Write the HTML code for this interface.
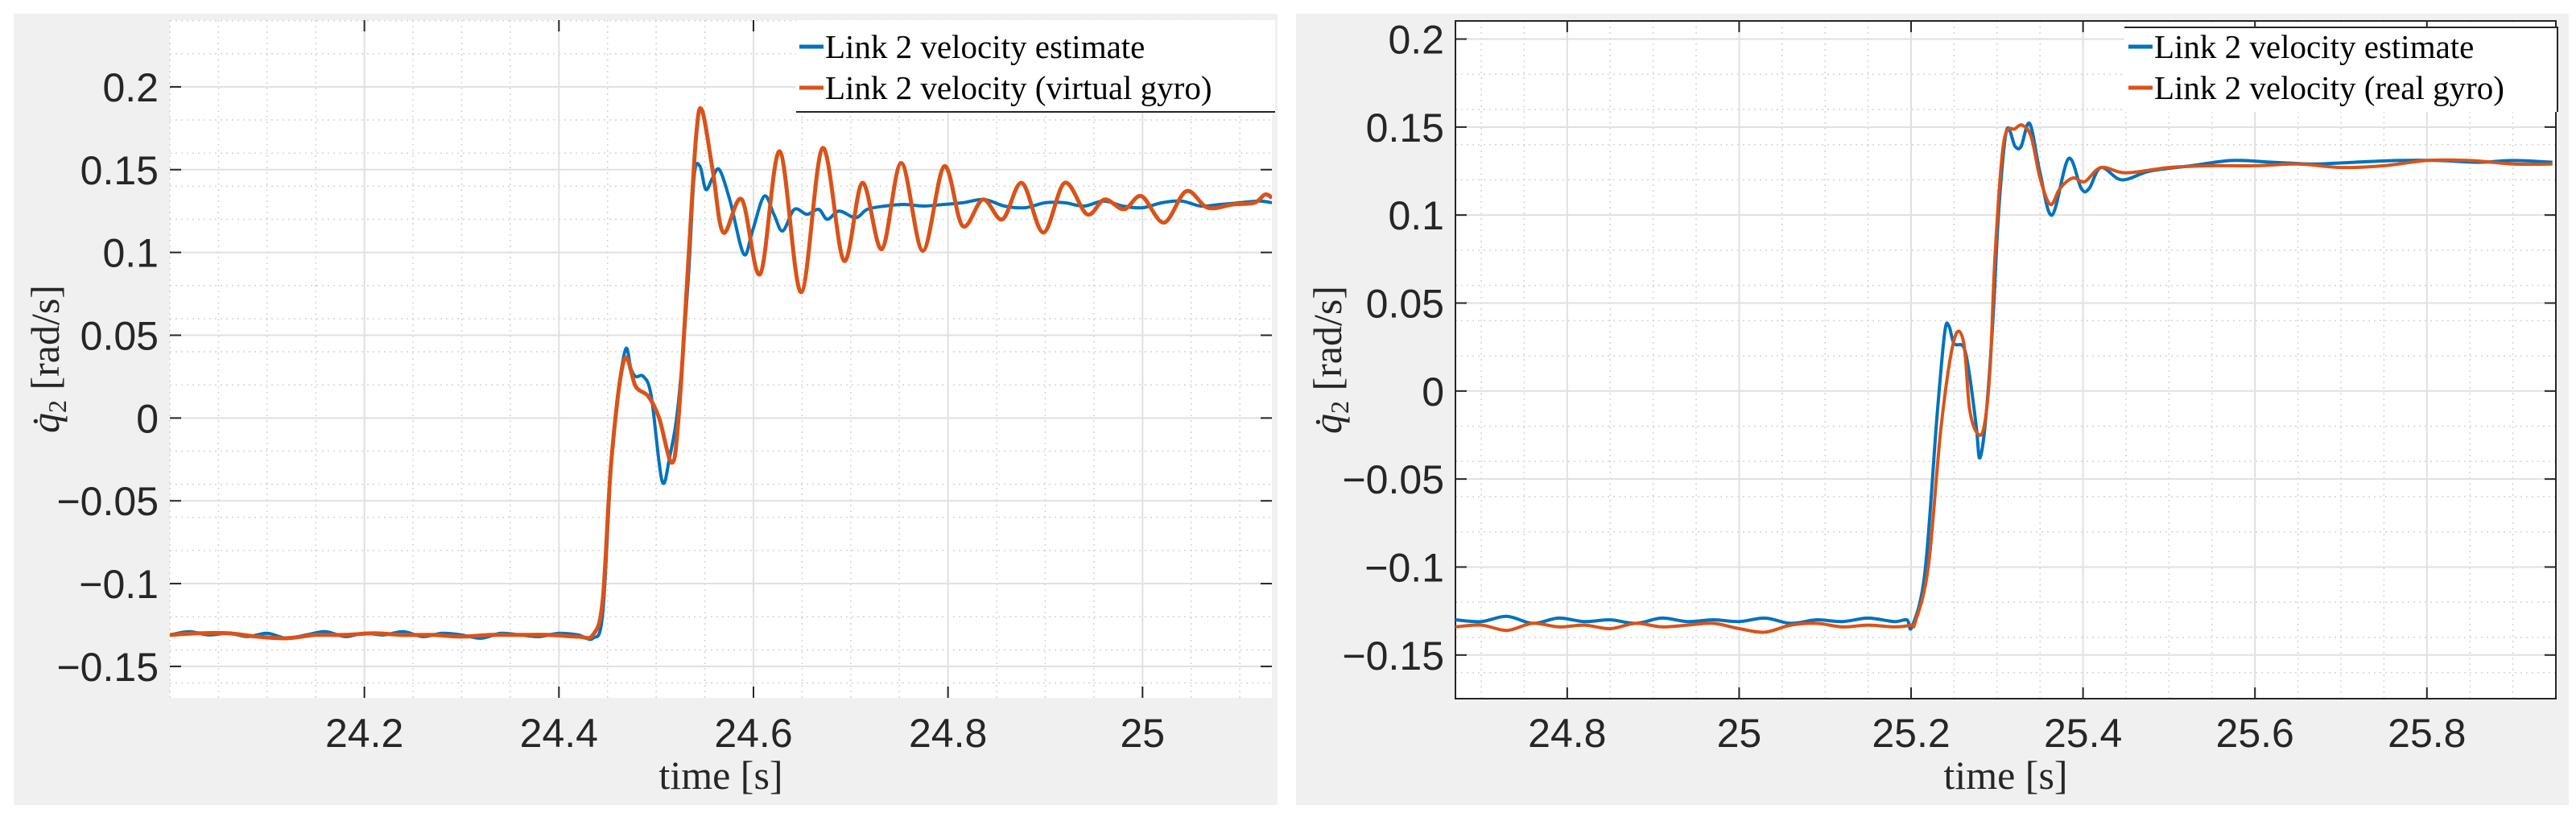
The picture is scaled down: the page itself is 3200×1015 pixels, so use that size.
<!DOCTYPE html>
<html><head><meta charset="utf-8"><style>
html,body{margin:0;padding:0;background:#fff;}
svg{display:block;}
.tick{font-family:"Liberation Sans",sans-serif;font-size:50px;fill:#262626;}
.lab{font-family:"Liberation Serif",serif;font-size:50px;fill:#262626;}
.leg{font-family:"Liberation Serif",serif;font-size:41px;fill:#000;}
</style></head><body>
<svg id="fig" width="3200" height="1015" viewBox="0 0 3200 1015" xmlns="http://www.w3.org/2000/svg">
<rect x="0" y="0" width="3200" height="1015" fill="#fff"/>
<g id="left"></g>
<g id="right"></g>
</svg>
<script>
// ---- left chart data ----
const leftXTicks = [24.2, 24.4, 24.6, 24.8, 25];
const leftXTickLabels = ["24.2", "24.4", "24.6", "24.8", "25"];
const leftYTicks = [-0.15, -0.1, -0.05, 0, 0.05, 0.1, 0.15, 0.2];
const leftYTickLabels = ["\u22120.15", "\u22120.1", "\u22120.05", "0", "0.05", "0.1", "0.15", "0.2"];
const leftBlueT = [24.0,24.02,24.04,24.06,24.08,24.1,24.12,24.14,24.16,24.18,24.2,24.22,24.24,24.26,24.28,24.3,24.32,24.34,24.36,24.38,24.4,24.42,24.435,24.445,24.454,24.462,24.469,24.474,24.479,24.487,24.495,24.506,24.514,24.523,24.533,24.539,24.545,24.551,24.558,24.565,24.576,24.59,24.599,24.611,24.621,24.63,24.642,24.655,24.667,24.676,24.688,24.705,24.717,24.735,24.755,24.775,24.796,24.815,24.837,24.858,24.879,24.9,24.92,24.94,24.96,24.98,25.0,25.02,25.04,25.06,25.08,25.1,25.12,25.133];
const leftBlueV = [-0.131,-0.129,-0.131,-0.130,-0.132,-0.130,-0.133,-0.131,-0.129,-0.132,-0.130,-0.131,-0.129,-0.132,-0.130,-0.131,-0.133,-0.130,-0.131,-0.132,-0.130,-0.131,-0.133,-0.118,-0.025,0.02,0.042,0.03,0.025,0.025,0.013,-0.038,-0.023,0.01,0.084,0.146,0.152,0.138,0.145,0.150,0.131,0.099,0.113,0.134,0.123,0.113,0.126,0.123,0.126,0.120,0.125,0.121,0.126,0.128,0.129,0.128,0.129,0.130,0.132,0.128,0.127,0.130,0.130,0.128,0.131,0.128,0.127,0.130,0.131,0.128,0.129,0.130,0.131,0.130];
const leftOrangeT = [24.0,24.03,24.06,24.09,24.12,24.15,24.18,24.21,24.24,24.27,24.3,24.33,24.36,24.39,24.42,24.435,24.445,24.454,24.467,24.479,24.492,24.503,24.516,24.523,24.533,24.541,24.547,24.558,24.569,24.588,24.607,24.627,24.649,24.671,24.693,24.712,24.732,24.752,24.774,24.796,24.815,24.836,24.856,24.876,24.898,24.92,24.943,24.961,24.981,24.999,25.022,25.045,25.067,25.093,25.115,25.126,25.133];
const leftOrangeV = [-0.131,-0.130,-0.130,-0.132,-0.133,-0.131,-0.131,-0.130,-0.131,-0.131,-0.132,-0.131,-0.131,-0.131,-0.132,-0.131,-0.11,-0.025,0.035,0.019,0.013,0.0,-0.027,0.0,0.094,0.17,0.186,0.15,0.112,0.132,0.087,0.161,0.076,0.163,0.095,0.142,0.102,0.154,0.101,0.152,0.116,0.132,0.120,0.142,0.112,0.142,0.123,0.132,0.126,0.134,0.118,0.137,0.127,0.129,0.130,0.135,0.133];
// ---- right chart data ----
const rightXTicks = [24.8, 25, 25.2, 25.4, 25.6, 25.8];
const rightXTickLabels = ["24.8", "25", "25.2", "25.4", "25.6", "25.8"];
const rightYTicks = [-0.15, -0.1, -0.05, 0, 0.05, 0.1, 0.15, 0.2];
const rightYTickLabels = ["\u22120.15", "\u22120.1", "\u22120.05", "0", "0.05", "0.1", "0.15", "0.2"];
const rightBlueT = [24.67,24.7,24.73,24.76,24.79,24.82,24.85,24.88,24.91,24.94,24.97,25.0,25.03,25.06,25.09,25.12,25.15,25.18,25.195,25.201,25.216,25.23,25.239,25.244,25.25,25.261,25.268,25.276,25.28,25.287,25.295,25.302,25.311,25.321,25.328,25.338,25.35,25.364,25.383,25.398,25.407,25.421,25.445,25.478,25.526,25.573,25.621,25.668,25.716,25.765,25.813,25.86,25.9,25.946];
const rightBlueV = [-0.130,-0.131,-0.128,-0.132,-0.129,-0.131,-0.130,-0.132,-0.129,-0.131,-0.130,-0.131,-0.129,-0.132,-0.130,-0.131,-0.129,-0.131,-0.130,-0.134,-0.1035,-0.015,0.033,0.037,0.027,0.025,0.009,-0.021,-0.038,-0.015,0.039,0.103,0.148,0.139,0.139,0.152,0.124,0.100,0.132,0.115,0.115,0.127,0.120,0.125,0.128,0.131,0.130,0.129,0.130,0.131,0.131,0.130,0.131,0.130];
const rightOrangeT = [24.67,24.7,24.73,24.76,24.79,24.82,24.85,24.88,24.91,24.94,24.97,25.0,25.03,25.06,25.09,25.12,25.15,25.18,25.2,25.205,25.22,25.235,25.25,25.261,25.268,25.277,25.285,25.292,25.298,25.308,25.321,25.33,25.34,25.35,25.362,25.373,25.388,25.402,25.421,25.45,25.5,25.55,25.6,25.65,25.7,25.75,25.8,25.85,25.9,25.946];
const rightOrangeV = [-0.134,-0.133,-0.136,-0.132,-0.134,-0.133,-0.135,-0.132,-0.134,-0.133,-0.132,-0.135,-0.137,-0.133,-0.132,-0.134,-0.133,-0.134,-0.133,-0.131,-0.10,-0.02,0.029,0.028,-0.01,-0.024,-0.02,0.014,0.08,0.142,0.149,0.151,0.144,0.121,0.106,0.115,0.121,0.119,0.127,0.124,0.127,0.128,0.128,0.129,0.127,0.128,0.131,0.131,0.129,0.129];

const NS = "http://www.w3.org/2000/svg";
function mk(parent, tag, attrs) {
  const e = document.createElementNS(NS, tag);
  for (const k in attrs) e.setAttribute(k, attrs[k]);
  parent.appendChild(e);
  return e;
}
function smoothPath(pts) {
  let d = 'M' + pts[0][0].toFixed(1) + ',' + pts[0][1].toFixed(1);
  for (let i = 0; i < pts.length - 1; i++) {
    const p0 = pts[Math.max(0, i - 1)], p1 = pts[i], p2 = pts[i + 1], p3 = pts[Math.min(pts.length - 1, i + 2)];
    const c1x = p1[0] + (p2[0] - p0[0]) / 6, c1y = p1[1] + (p2[1] - p0[1]) / 6;
    const c2x = p2[0] - (p3[0] - p1[0]) / 6, c2y = p2[1] - (p3[1] - p1[1]) / 6;
    d += ` C${c1x.toFixed(1)},${c1y.toFixed(1)} ${c2x.toFixed(1)},${c2y.toFixed(1)} ${p2[0].toFixed(1)},${p2[1].toFixed(1)}`;
  }
  return d;
}
function drawChart(g, cfg) {
  const sx = v => cfg.px0 + (v - cfg.xmin) / (cfg.xmax - cfg.xmin) * (cfg.px1 - cfg.px0);
  const sy = v => cfg.py1 - (v - cfg.ymin) / (cfg.ymax - cfg.ymin) * (cfg.py1 - cfg.py0);
  const bg = mk(g, 'rect', {x: cfg.gx0, y: cfg.gy0, width: cfg.gx1 - cfg.gx0, height: cfg.gy1 - cfg.gy0, fill: '#f0f0f0'});
  
  
  const pa = mk(g, 'rect', {x: cfg.px0, y: cfg.py0, width: cfg.px1 - cfg.px0, height: cfg.py1 - cfg.py0, fill: '#fff'});
  
  
  const grid = mk(g, 'g', {});
  
  
  for (let v = Math.ceil(cfg.xmin / 0.05) * 0.05; v <= cfg.xmax; v += 0.05) {
    mk(grid, 'line', {x1: sx(v), x2: sx(v), y1: cfg.py0, y2: cfg.py1, stroke: '#d4d4d4', 'stroke-width': 1.5, 'stroke-dasharray': '2,5'});
  }
  for (let v = Math.ceil(cfg.ymin / 0.02) * 0.02; v <= cfg.ymax; v += 0.02) {
    mk(grid, 'line', {x1: cfg.px0, x2: cfg.px1, y1: sy(v), y2: sy(v), stroke: '#d4d4d4', 'stroke-width': 1.5, 'stroke-dasharray': '2,5'});
  }
  cfg.xt.forEach((v, i) => {
    mk(grid, 'line', {x1: sx(v), x2: sx(v), y1: cfg.py0, y2: cfg.py1, stroke: '#e0e0e0', 'stroke-width': 2});
    mk(g, 'line', {x1: sx(v), x2: sx(v), y1: cfg.py0, y2: cfg.py0 + 14, stroke: '#262626', 'stroke-width': 2});
    mk(g, 'line', {x1: sx(v), x2: sx(v), y1: cfg.py1, y2: cfg.py1 - 14, stroke: '#262626', 'stroke-width': 2});
    const t = mk(g, 'text', {x: sx(v), y: 928, 'text-anchor': 'middle', class: 'tick'});
    t.textContent = cfg.xl[i];
    
    
  });
  cfg.yt.forEach((v, i) => {
    mk(grid, 'line', {x1: cfg.px0, x2: cfg.px1, y1: sy(v), y2: sy(v), stroke: '#e0e0e0', 'stroke-width': 2});
    mk(g, 'line', {x1: cfg.px0, x2: cfg.px0 + 14, y1: sy(v), y2: sy(v), stroke: '#262626', 'stroke-width': 2});
    mk(g, 'line', {x1: cfg.px1, x2: cfg.px1 - 14, y1: sy(v), y2: sy(v), stroke: '#262626', 'stroke-width': 2});
    const t = mk(g, 'text', {x: cfg.px0 - 14, y: sy(v) + 18, 'text-anchor': 'end', class: 'tick'});
    t.textContent = cfg.yl[i];
    
    
  });
  if (cfg.box) {
    const b = mk(g, 'rect', {x: cfg.px0, y: cfg.py0, width: cfg.px1 - cfg.px0, height: cfg.py1 - cfg.py0, fill: 'none', stroke: '#262626', 'stroke-width': 2});
    
    
  }
  const series = [[cfg.bt, cfg.bv, '#0072bd', 4, 'series-estimate'], [cfg.ot, cfg.ov, '#d95319', cfg.ow, 'series-gyro']];
  const clipId = 'clip' + cfg.px0;
  const cp = mk(g, 'clipPath', {id: clipId});
  mk(cp, 'rect', {x: cfg.px0, y: cfg.py0, width: cfg.px1 - cfg.px0, height: cfg.py1 - cfg.py0});
  [0, 1].forEach(k => {
    const [T, V, col, w, nm] = series[k];
    const pts = T.map((t, i) => [sx(t), sy(V[i])]);
    const p = mk(g, 'path', {d: smoothPath(pts), fill: 'none', stroke: col, 'stroke-width': w, 'stroke-linejoin': 'round', 'clip-path': 'url(#' + clipId + ')'});
    
    
  });
  const lg = mk(g, 'g', {});
  
  
  mk(lg, 'rect', {x: cfg.lx0, y: cfg.ly0, width: cfg.lx1 - cfg.lx0, height: 139 - cfg.ly0, fill: '#fff'});
  if (cfg.box) {
    mk(lg, 'polyline', {points: `${cfg.lx0},${cfg.ly0} ${cfg.lx1},${cfg.ly0} ${cfg.lx1},139`, fill: 'none', stroke: '#262626', 'stroke-width': 2});
  } else {
    mk(lg, 'line', {x1: cfg.lx0, x2: cfg.lx1, y1: 139, y2: 139, stroke: '#262626', 'stroke-width': 2});
  }
  cfg.legend.forEach((txt, i) => {
    const y = 58 + i * 51;
    const e = mk(lg, 'g', {});
    
    
    mk(e, 'line', {x1: cfg.lmx, x2: cfg.lmx + 30, y1: y, y2: y, stroke: i ? '#d95319' : '#0072bd', 'stroke-width': 5});
    const t = mk(e, 'text', {x: cfg.lmx + 32, y: y + 14, class: 'leg'});
    t.textContent = txt;
  });
  const xl = mk(g, 'text', {x: (cfg.px0 + cfg.px1) / 2, y: 980, 'text-anchor': 'middle', class: 'lab'});
  xl.textContent = 'time [s]';
  
  
  const yl = mk(g, 'text', {x: 0, y: 0, 'text-anchor': 'middle', class: 'lab', transform: `translate(${cfg.gx0 + 56},${(cfg.py0 + cfg.py1) / 2}) rotate(-90)`});
  yl.innerHTML = '<tspan font-style="italic">q̇</tspan><tspan font-size="32" dy="9">2</tspan><tspan dy="-9">  [rad/s]</tspan>';
  
  
}
drawChart(document.getElementById('left'), {
  gx0: 17, gy0: 17, gx1: 1587, gy1: 1000,
  px0: 211, px1: 1580, py0: 25, py1: 867,
  xmin: 24.0, xmax: 25.133, ymin: -0.169, ymax: 0.2403,
  xt: leftXTicks, xl: leftXTickLabels, yt: leftYTicks, yl: leftYTickLabels,
  bt: leftBlueT, bv: leftBlueV, ot: leftOrangeT, ov: leftOrangeV, ow: 5,
  box: false, lx0: 989, lx1: 1584, ly0: 25, lmx: 993,
  legend: ['Link 2 velocity estimate', 'Link 2 velocity (virtual gyro)']
});
drawChart(document.getElementById('right'), {
  gx0: 1610, gy0: 17, gx1: 3191, gy1: 1000,
  px0: 1808, px1: 3175, py0: 26, py1: 868,
  xmin: 24.67, xmax: 25.95, ymin: -0.1748, ymax: 0.2103,
  xt: rightXTicks, xl: rightXTickLabels, yt: rightYTicks, yl: rightYTickLabels,
  bt: rightBlueT, bv: rightBlueV, ot: rightOrangeT, ov: rightOrangeV, ow: 4,
  box: true, lx0: 2639, lx1: 3177, ly0: 34, lmx: 2644,
  legend: ['Link 2 velocity estimate', 'Link 2 velocity (real gyro)']
});
</script>
</body></html>
